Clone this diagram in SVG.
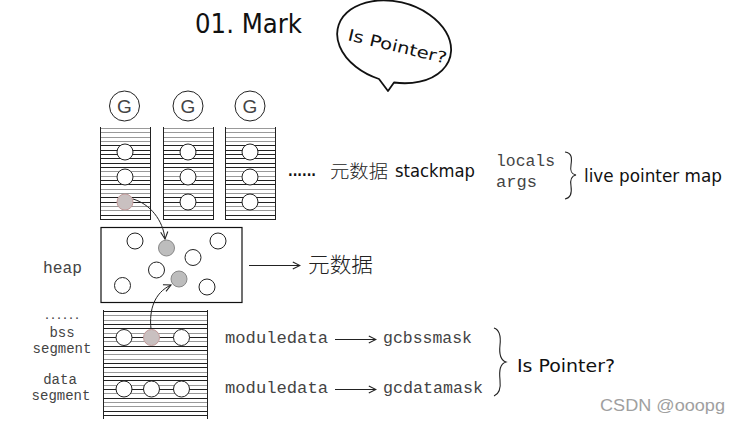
<svg xmlns="http://www.w3.org/2000/svg" width="740" height="427" viewBox="0 0 740 427">
<style>
.hand{font-family:"DejaVu Sans","Liberation Sans",sans-serif;fill:#111}
.mono{font-family:"Liberation Mono","DejaVu Sans Mono",monospace;fill:#444}
.cjk{font-family:"Noto Sans CJK SC","Noto Sans",sans-serif;fill:#222;font-weight:300}
.slot{fill:#fff;stroke:#222;stroke-width:1}
.hit{fill:#bdbdbd;stroke:#888;stroke-width:1}
.pink{fill:#c9c0c0;stroke:#c29a9a;stroke-width:1}
.gl{stroke:#999;stroke-width:1;fill:none}
.bl{stroke:#222;stroke-width:1;fill:none}
.conn{fill:none;stroke:#222;stroke-width:1}
.brace{fill:none;stroke:#222;stroke-width:1.1}
.gt{font-family:"Liberation Sans",Arial,sans-serif;fill:#444}
</style>
<defs>
<marker id="arr" viewBox="0 0 10 10" refX="9" refY="5" markerWidth="9" markerHeight="9" markerUnits="userSpaceOnUse" orient="auto">
<path d="M1,1 L9,5 L1,9" fill="none" stroke="#222" stroke-width="1.2"/>
</marker>
<g id="stack">
<path class="gl" d="M0,128.5H50M0,132.5H50M0,137.5H50M0,141.5H50M0,171.5H50M0,176.5H50M0,189.5H50M0,193.5H50M0,206.5H50M0,210.5H50"/>
<path class="bl" d="M0,145.5H50M0,150.5H50M0,154.5H50M0,158.5H50M0,163.5H50M0,167.5H50M0,180.5H50M0,184.5H50M0,197.5H50M0,202.5H50M0,215.5H50M0,219.5H50"/>
<path class="bl" d="M0.5,127V220M50.5,127V220"/>
</g>
</defs>

<g id="title"><text class="hand" x="195" y="33" font-size="26" textLength="107" lengthAdjust="spacingAndGlyphs">01. Mark</text></g>

<g id="bubble">
<path d="M379,79 A58,40 15 1 1 394,82.5 L388,91 Z" fill="#fff" stroke="#111" stroke-width="1.8" stroke-linejoin="round"/>
<text class="hand" font-size="16" transform="translate(347,40) rotate(13.5)" textLength="101" lengthAdjust="spacingAndGlyphs">Is Pointer?</text>
</g>

<g id="g1"><circle class="slot" cx="124.5" cy="106" r="15"/><text class="gt" x="124.5" y="112.5" font-size="19" text-anchor="middle">G</text></g>
<g id="g2"><circle class="slot" cx="188" cy="106" r="15"/><text class="gt" x="188" y="112.5" font-size="19" text-anchor="middle">G</text></g>
<g id="g3"><circle class="slot" cx="250" cy="106" r="15"/><text class="gt" x="250" y="112.5" font-size="19" text-anchor="middle">G</text></g>

<g id="stack1">
<use href="#stack" transform="translate(100,0)"/>
<circle class="slot" cx="125" cy="152" r="8"/>
<circle class="slot" cx="125" cy="177" r="8"/>
<circle class="pink" cx="125" cy="202" r="8"/>
</g>
<g id="stack2">
<use href="#stack" transform="translate(163,0)"/>
<circle class="slot" cx="188" cy="152" r="8"/>
<circle class="slot" cx="188" cy="177" r="8"/>
<circle class="slot" cx="188" cy="202" r="8"/>
</g>
<g id="stack3">
<use href="#stack" transform="translate(225,0)"/>
<circle class="slot" cx="250" cy="152" r="8"/>
<circle class="slot" cx="250" cy="177" r="8"/>
<circle class="slot" cx="250" cy="202" r="8"/>
</g>

<g id="stackmap">
<text class="hand" x="288" y="176" font-size="14" font-weight="bold" textLength="28" lengthAdjust="spacingAndGlyphs">......</text>
<text class="cjk" x="330" y="178" font-size="18" textLength="58" lengthAdjust="spacingAndGlyphs">元数据</text>
<text class="hand" x="395" y="177" font-size="17" textLength="80" lengthAdjust="spacingAndGlyphs">stackmap</text>
<text class="mono" x="496" y="166" font-size="16" textLength="59" lengthAdjust="spacingAndGlyphs">locals</text>
<text class="mono" x="496" y="187" font-size="16" textLength="41" lengthAdjust="spacingAndGlyphs">args</text>
<path class="brace" d="M565,152 C572,153 572,158 571,165 C570,171 571,174 576,175 C571,176 570,180 571,186 C572,193 571,198 565,199"/>
<text class="hand" x="584" y="182" font-size="18" textLength="138" lengthAdjust="spacingAndGlyphs">live pointer map</text>
</g>

<g id="heap">
<text class="mono" x="43" y="273" font-size="16" textLength="39" lengthAdjust="spacingAndGlyphs">heap</text>
<rect x="101" y="227.5" width="141" height="75" fill="#fff" stroke="#111" stroke-width="1.2"/>
<circle class="slot" cx="135" cy="241" r="8"/>
<circle class="hit" cx="166.5" cy="248" r="8"/>
<circle class="slot" cx="218" cy="241" r="8"/>
<circle class="slot" cx="193" cy="257.5" r="8"/>
<circle class="slot" cx="156.5" cy="270" r="8"/>
<circle class="hit" cx="179" cy="279" r="8"/>
<circle class="slot" cx="122.5" cy="285.5" r="8"/>
<circle class="slot" cx="207" cy="287" r="8"/>
<text class="cjk" x="308" y="272" font-size="21" textLength="65" lengthAdjust="spacingAndGlyphs">元数据</text>
</g>

<g id="segments">
<text class="mono" x="62" y="319" font-size="10" text-anchor="middle" font-weight="bold">......</text>
<text class="mono" x="62" y="337" font-size="14" text-anchor="middle">bss</text>
<text class="mono" x="62" y="353" font-size="14" text-anchor="middle">segment</text>
<text class="mono" x="60" y="384" font-size="14" text-anchor="middle">data</text>
<text class="mono" x="61" y="400" font-size="14" text-anchor="middle">segment</text>
<path class="gl" d="M103,315.5H207M103,320.5H207M103,333.5H207M103,341.5H207M103,354.5H207M103,359.5H207M103,372.5H207M103,385.5H207M103,393.5H207M103,402.5H207M103,406.5H207"/>
<path class="bl" d="M103,311.5H207M103,324.5H207M103,328.5H207M103,337.5H207M103,346.5H207M103,350.5H207M103,363.5H207M103,367.5H207M103,376.5H207M103,380.5H207M103,389.5H207M103,398.5H207M103,411.5H207M103,415.5H207"/>
<path class="bl" d="M103.5,310V419M207.5,310V419"/>
<circle class="slot" cx="124" cy="337.5" r="8"/>
<circle class="pink" cx="151.5" cy="337.5" r="8"/>
<circle class="slot" cx="181.5" cy="337.5" r="8"/>
<circle class="slot" cx="124" cy="389" r="8"/>
<circle class="slot" cx="151.5" cy="389" r="8"/>
<circle class="slot" cx="181.5" cy="389" r="8"/>
</g>

<g id="masks">
<text class="mono" x="225" y="343" font-size="16" textLength="103" lengthAdjust="spacingAndGlyphs">moduledata</text>
<text class="mono" x="383" y="343" font-size="16" textLength="89" lengthAdjust="spacingAndGlyphs">gcbssmask</text>
<text class="mono" x="225" y="393" font-size="16" textLength="103" lengthAdjust="spacingAndGlyphs">moduledata</text>
<text class="mono" x="383" y="393" font-size="16" textLength="100" lengthAdjust="spacingAndGlyphs">gcdatamask</text>
<path class="brace" d="M494,328 C500,330 501,336 500,345 C499,354 500,360 506,362 C500,364 499,370 500,380 C501,389 499,394 494,396"/>
<text class="hand" x="517" y="372" font-size="18" textLength="98" lengthAdjust="spacingAndGlyphs">Is Pointer?</text>
</g>

<g id="connectors">
<path class="conn" d="M133,199 C150,204 163,220 165,239" marker-end="url(#arr)"/>
<path class="conn" d="M151,329 C149,310 154,293 171,285" marker-end="url(#arr)"/>
<path class="conn" d="M249,265.5 H300" marker-end="url(#arr)"/>
<path class="conn" d="M335,339.5 H376" marker-end="url(#arr)"/>
<path class="conn" d="M335,389.5 H376" marker-end="url(#arr)"/>
</g>

<text x="600" y="411" font-family="'Liberation Sans',Arial,sans-serif" font-size="16" fill="#a0a0a0" textLength="125" lengthAdjust="spacingAndGlyphs">CSDN @ooopg</text>
</svg>
